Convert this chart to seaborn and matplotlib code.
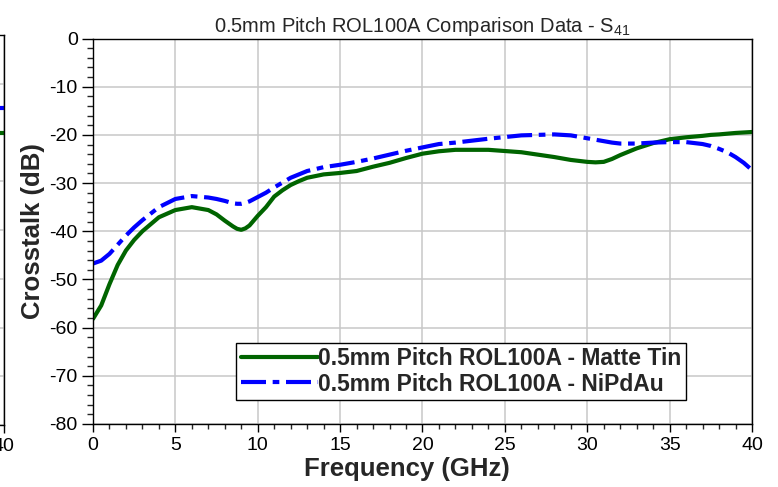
import numpy as np
import pandas as pd
import matplotlib
matplotlib.use("Agg")
import matplotlib.pyplot as plt
from matplotlib.ticker import MultipleLocator, FixedLocator
import seaborn as sns

# --- data ---
freq_ghz = [0, 0.5, 1, 1.5, 2, 2.5, 3, 4, 5, 6, 7, 7.5, 8, 8.5, 8.75, 9, 9.25,
            9.5, 10, 10.5, 11, 11.5, 12, 12.5, 13, 14, 15, 16, 17, 18, 19, 20,
            21, 22, 24, 26, 28, 29, 30, 30.5, 31, 31.5, 32, 33, 34, 35, 36, 37,
            37.5, 38, 38.5, 39, 39.5, 40]
matte_tin = [-58.2, -55.4, -51.0, -47.0, -44.0, -41.8, -40.0, -37.1, -35.6, -35.0,
             -35.6, -36.5, -37.8, -39.0, -39.5, -39.7, -39.4, -38.8, -36.8, -35.0,
             -32.8, -31.5, -30.4, -29.6, -28.9, -28.2, -27.9, -27.5, -26.6, -25.8,
             -24.8, -23.9, -23.4, -23.1, -23.1, -23.6, -24.6, -25.2, -25.6, -25.7,
             -25.6, -25.0, -24.2, -22.8, -21.7, -20.9, -20.5, -20.2, -20.0, -19.9,
             -19.75, -19.6, -19.5, -19.4]
nipdau = [-46.7, -46.1, -44.7, -42.8, -40.9, -39.2, -37.7, -35.0, -33.3, -32.7,
          -33.0, -33.3, -33.7, -34.2, -34.3, -34.3, -34.1, -33.8, -32.9, -32.0,
          -30.9, -29.9, -28.9, -28.2, -27.5, -26.7, -26.2, -25.6, -24.9, -24.1,
          -23.3, -22.6, -21.9, -21.6, -20.8, -20.1, -19.9, -20.1, -20.7, -21.0,
          -21.3, -21.6, -21.8, -21.8, -21.6, -21.5, -21.5, -21.9, -22.3, -22.9,
          -23.6, -24.6, -25.8, -27.3]

# sliver of the neighbouring chart visible at the left edge
left_freq = [39, 40]
left_matte = [-20.1, -20.1]
left_nipdau = [-15.0, -15.0]

label_matte = "0.5mm Pitch ROL100A - Matte Tin"
label_nipdau = "0.5mm Pitch ROL100A - NiPdAu"
green = "#006400"
blue = "#0000FF"

sns.set_style("white")
plt.rcParams['font.family'] = ['Liberation Sans', 'DejaVu Sans']
plt.rcParams['mathtext.fontset'] = 'custom'
plt.rcParams['mathtext.rm'] = 'Liberation Sans'
plt.rcParams['mathtext.it'] = 'Liberation Sans'
plt.rcParams['axes.unicode_minus'] = False

df = pd.DataFrame({"freq": freq_ghz, "matte": matte_tin, "nipdau": nipdau})
dash = (0, (6, 1.6, 1.6, 1.6))


def style_axes(ax):
    ax.set_xlim(0, 40)
    ax.set_ylim(-80, 0)
    ax.xaxis.set_major_locator(MultipleLocator(5))
    ax.xaxis.set_minor_locator(MultipleLocator(1))
    ax.yaxis.set_major_locator(MultipleLocator(10))
    ax.yaxis.set_minor_locator(MultipleLocator(2))
    ax.grid(True, which="major", color="#c8c8c8", lw=1.1)
    ax.tick_params(which="major", direction="out", width=1, labelsize=14,
                   colors="black", left=True, bottom=True)
    ax.tick_params(which="minor", direction="out", width=1, left=True, bottom=True)
    ax.tick_params(axis="y", which="major", length=8, pad=3)
    ax.tick_params(axis="y", which="minor", length=4.5)
    ax.tick_params(axis="x", which="major", length=6)
    ax.tick_params(axis="x", which="minor", length=3.5)
    for s in ax.spines.values():
        s.set_visible(True)
        s.set_color("black")
        s.set_linewidth(1)


fig = plt.figure(figsize=(7.78, 4.87), dpi=100)

# partial neighbour chart, only its right edge is inside the figure
ax0 = fig.add_axes([-0.842, 0.1273, 0.847, 0.8008])
style_axes(ax0)
sns.lineplot(x=left_freq, y=left_matte, ax=ax0, color=green, lw=3)
sns.lineplot(x=left_freq, y=left_nipdau, ax=ax0, color=blue, lw=3, linestyle=dash)
ax0.xaxis.set_major_locator(FixedLocator([40]))
ax0.tick_params(axis="y", labelleft=False)
ax0.set_xlabel("")
ax0.set_ylabel("")

ax = fig.add_axes([0.1195, 0.1294, 0.8471, 0.7915])
style_axes(ax)
sns.lineplot(data=df, x="freq", y="matte", ax=ax, color=green, lw=3,
             label=label_matte)
sns.lineplot(data=df, x="freq", y="nipdau", ax=ax, color=blue, lw=3,
             linestyle=dash, label=label_nipdau)

ax.set_title("0.5mm Pitch ROL100A Comparison Data - S$_{41}$", fontsize=14.5, pad=5)
ax.set_xlabel("Frequency (GHz)", fontsize=18.5, fontweight="bold")
ax.xaxis.set_label_coords(0.476, -0.085)
ax.set_ylabel("Crosstalk (dB)", fontsize=18.5, fontweight="bold", labelpad=3)

leg = ax.legend(loc="lower left", bbox_to_anchor=(0.217, 0.062),
                handlelength=3.4, handletextpad=0.0, labelspacing=0.1,
                borderpad=0.2, borderaxespad=0, fancybox=False, framealpha=1,
                edgecolor="black", prop={"weight": "bold", "size": 16.5})
leg.get_frame().set_linewidth(1)

fig.savefig("out.png", dpi=100)
